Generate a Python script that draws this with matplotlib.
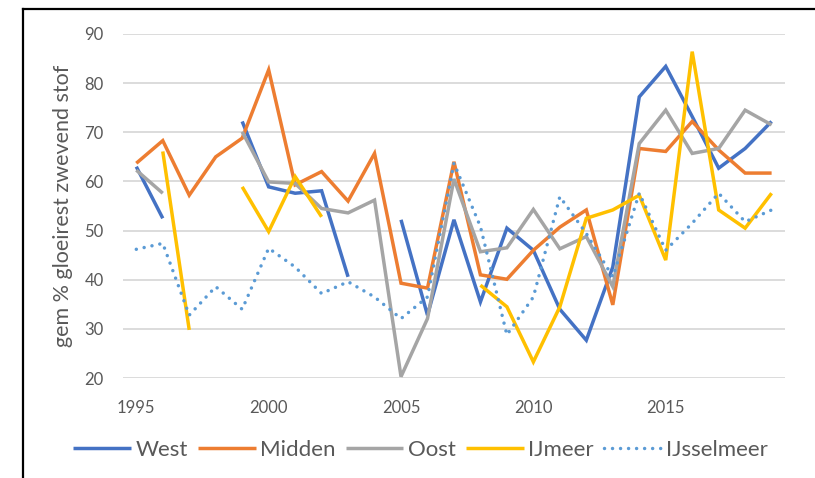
import numpy as np
import matplotlib

matplotlib.use("Agg")
import matplotlib.pyplot as plt
from matplotlib.lines import Line2D

plt.rcParams["font.family"] = ["Lato", "DejaVu Sans"]

nan = np.nan
years = list(range(1995, 2020))

# gem % gloeirest zwevend stof per jaar (nan = geen meting)
west = [63.0, 52.5, nan, nan, 72.2, 58.9, 57.6, 58.1, 40.6, nan,
        52.2, 32.8, 52.2, 35.5, 50.5, 46.0, 34.0, 27.7, 42.6, 77.2,
        83.4, 73.2, 62.7, 66.7, 72.2]
midden = [63.7, 68.3, 57.2, 65.0, 68.8, 82.7, 59.3, 62.0, 56.0, 65.7,
          39.3, 38.3, 64.0, 41.0, 40.1, 46.0, 50.7, 54.2, 34.9, 66.7,
          66.1, 72.2, 66.4, 61.7, 61.7]
oost = [62.3, 57.6, nan, nan, 70.1, 59.9, 59.6, 54.5, 53.6, 56.2,
        20.3, 32.1, 60.5, 45.7, 46.5, 54.3, 46.3, 48.8, 38.6, 67.7,
        74.5, 65.7, 66.7, 74.5, 71.5]
ijmeer = [nan, 66.1, 29.8, nan, 58.9, 49.8, 61.0, 52.8, nan, nan,
          nan, nan, nan, 38.9, 34.5, 23.3, 34.5, 52.5, 54.2, 57.2,
          44.0, 86.4, 54.2, 50.5, 57.6]
ijsselmeer = [46.2, 47.4, 32.8, 38.6, 34.0, 46.4, 42.6, 37.2, 39.6, 36.5,
              32.1, 36.5, 63.7, 50.8, 28.8, 36.5, 56.9, 49.4, 40.6, 57.6,
              46.0, 51.5, 57.6, 51.8, 54.2]

series = [
    ("West", west, "#4472C4", "-"),
    ("Midden", midden, "#ED7D31", "-"),
    ("Oost", oost, "#A5A5A5", "-"),
    ("IJmeer", ijmeer, "#FFC000", "-"),
    ("IJsselmeer", ijsselmeer, "#5B9BD5", (0, (0.01, 2.3))),
]

fig = plt.figure(figsize=(8.15, 4.78), dpi=100)
ax = fig.add_axes([0.151, 0.209, 0.812, 0.720])

for name, vals, color, ls in series:
    ax.plot(years, vals, color=color, lw=2.5, ls=ls, label=name,
            solid_capstyle="butt", dash_capstyle="round", solid_joinstyle="miter")

ax.set_xlim(1994.5, 2019.5)
ax.set_ylim(20, 90)
ax.set_yticks(range(20, 91, 10))
ax.set_xticks(range(1995, 2016, 5))
ax.yaxis.grid(True, color="#D9D9D9", lw=1.3)
ax.set_axisbelow(True)
for s in ax.spines.values():
    s.set_visible(False)
ax.tick_params(length=0, labelsize=12, labelcolor="#595959")
ax.tick_params(axis="y", pad=14)
ax.tick_params(axis="x", pad=16)
ax.set_ylabel("gem % gloeirest zwevend stof", fontsize=15.5, color="#595959", labelpad=8)

fig.legend(loc="center", bbox_to_anchor=(0.516, 0.059), ncol=5, frameon=False,
           fontsize=16, labelcolor="#595959", handlelength=2.6, handletextpad=0.2,
           columnspacing=0.45)

# zwarte kaderlijnen links en boven
fig.add_artist(Line2D([23 / 815, 23 / 815], [0, 1 - 9 / 478], color="black", lw=1.6))
fig.add_artist(Line2D([23 / 815, 1], [1 - 9 / 478, 1 - 9 / 478], color="black", lw=1.6))

fig.savefig("out.png", dpi=100)
